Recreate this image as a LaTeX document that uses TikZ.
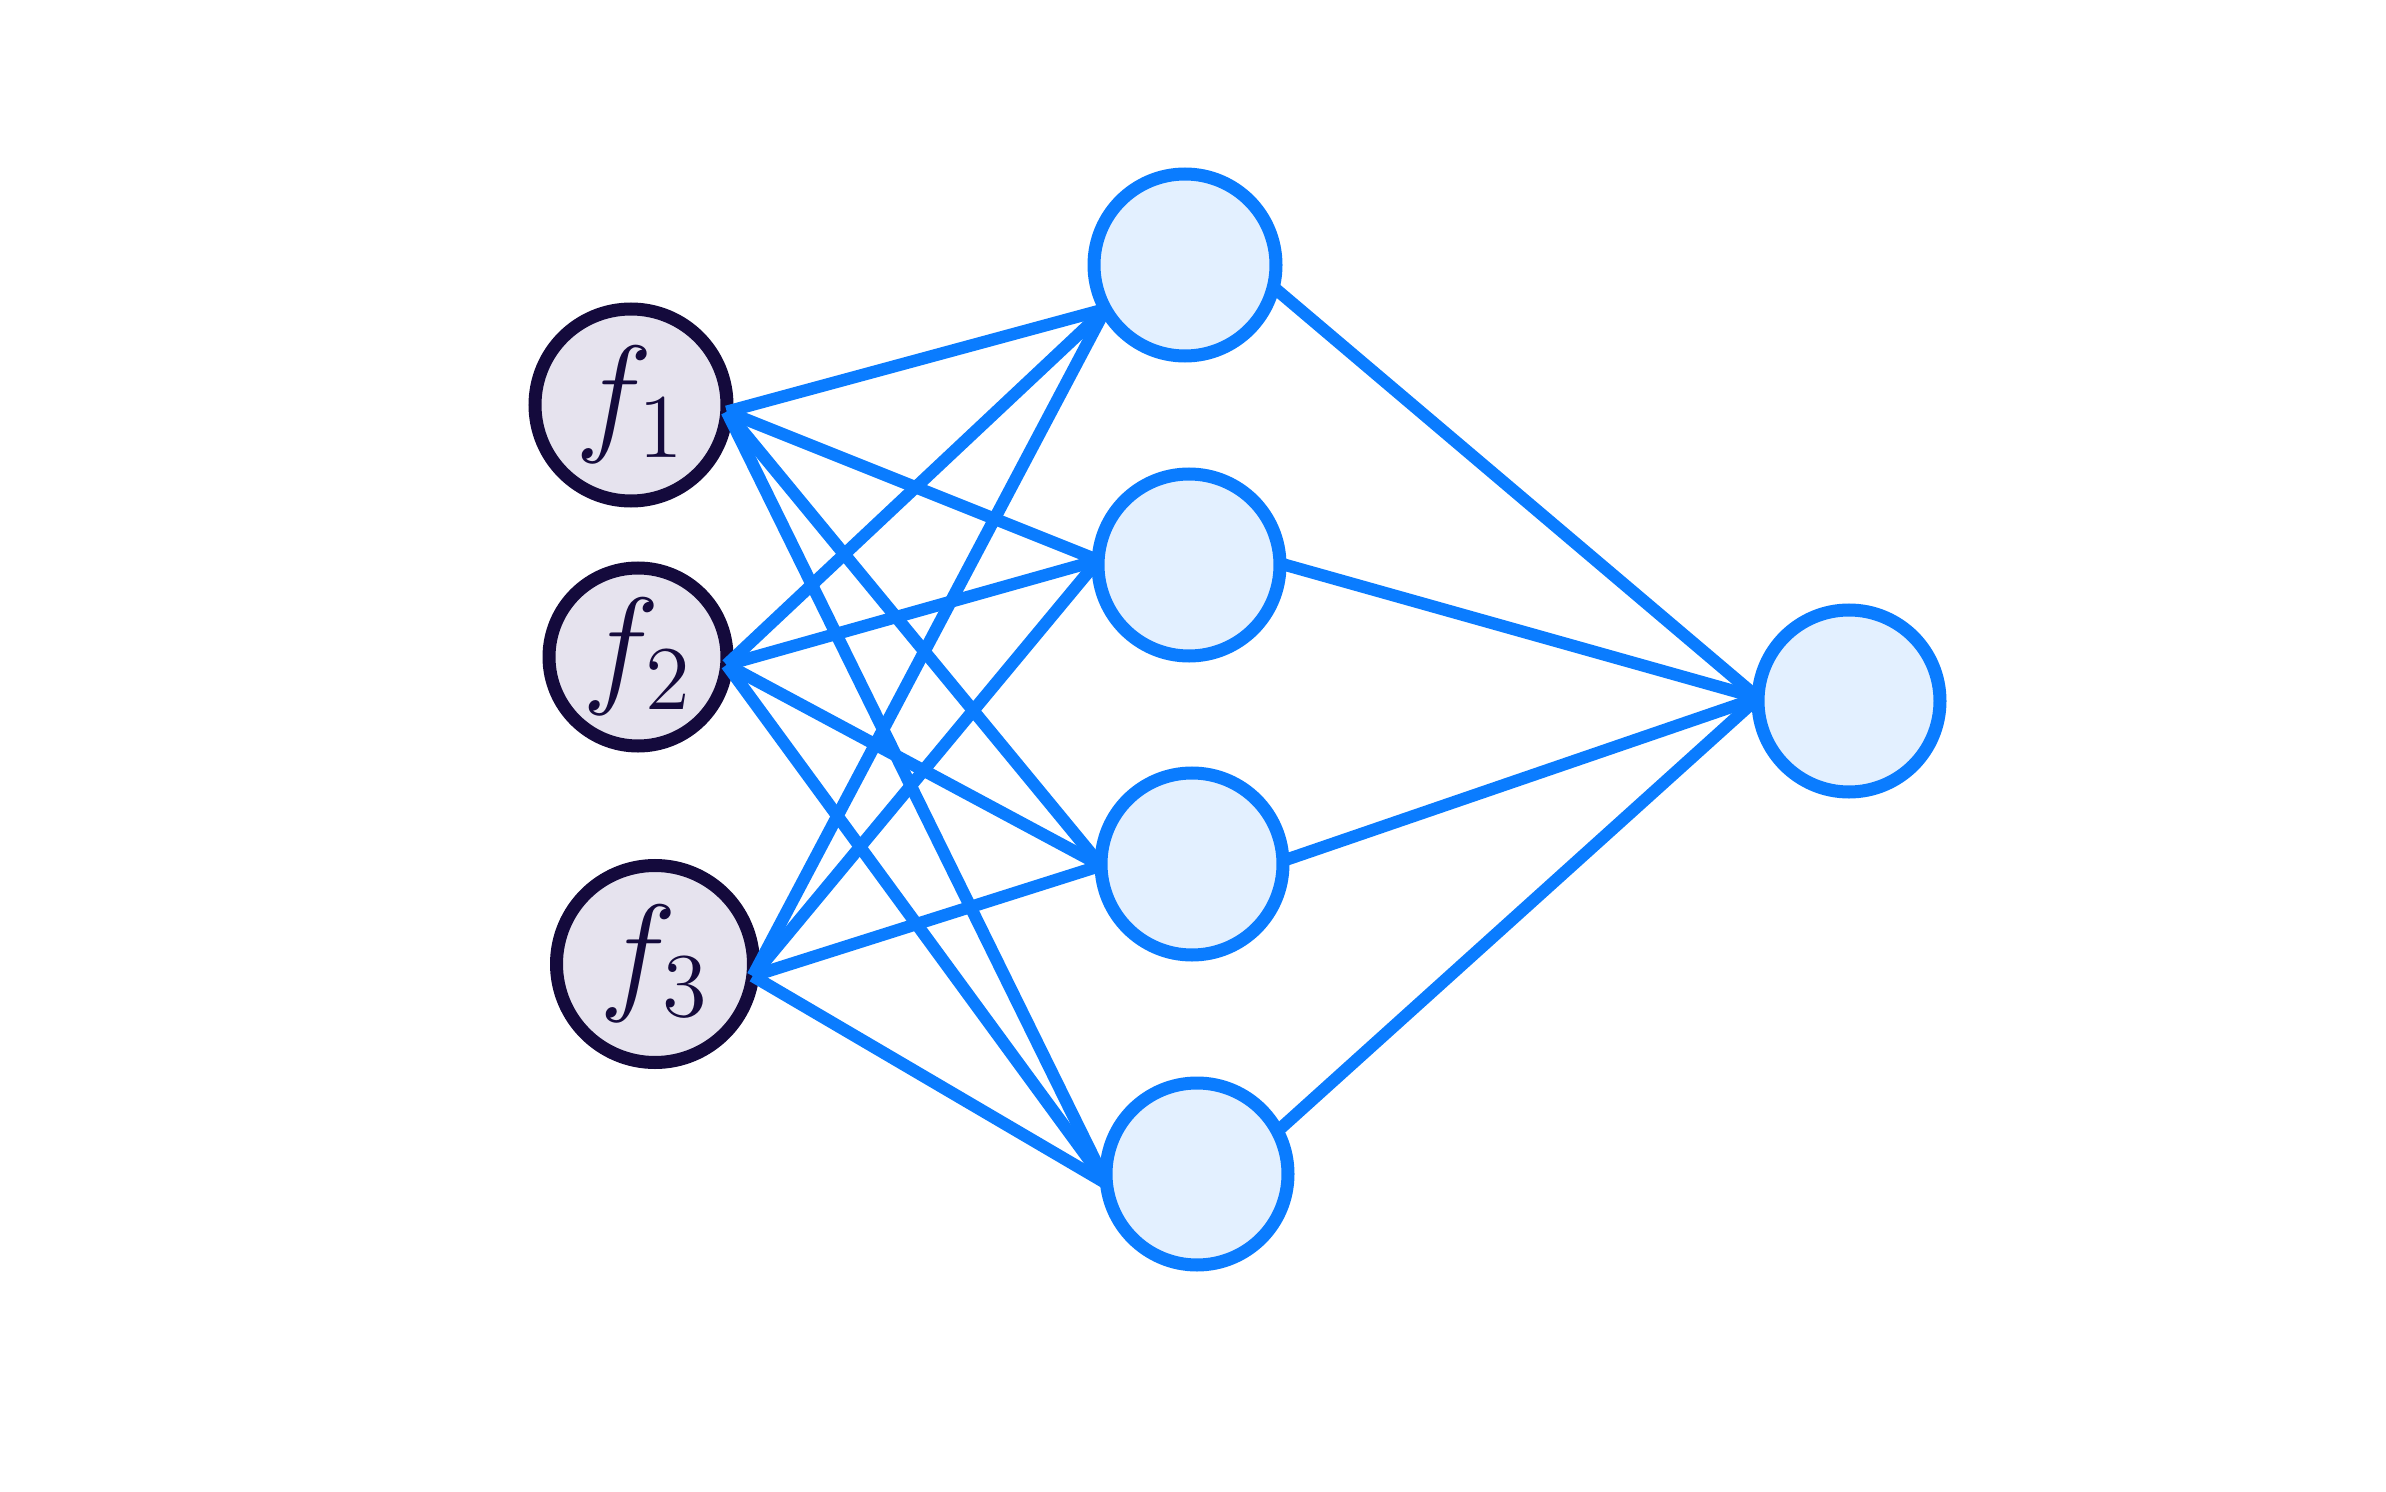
\documentclass[tikz,border=0pt]{standalone}
\usepackage{xcolor}
\usepackage{graphicx}
\usepackage{tikz}
\usepackage{amsmath,amssymb}
\usetikzlibrary{positioning, calc}
\definecolor{nnink}{HTML}{140A3C}
\definecolor{nninfill}{HTML}{E6E3EE}
\definecolor{nnblue}{HTML}{0A7CFF}
\definecolor{nnbluefill}{HTML}{E3F0FF}
\newcommand{\featlabel}[1]{\scalebox{1.8}{$f_{#1}$}}
\tikzset{
  inneuron/.style={circle, draw=nnink, fill=nninfill, line width=3.7pt, outer sep=0pt, inner sep=0pt, text=nnink, font=\fontsize{20.74}{20.74}\selectfont},
  neuron/.style={circle, draw=nnblue, fill=nnbluefill, line width=3.7pt, minimum size=1.82cm, outer sep=0pt, inner sep=0pt},
  wire/.style={draw=nnblue, line width=3.5pt}
}

\begin{document}
\begin{tikzpicture}
  \useasboundingbox (0,0) rectangle (23.86,14.91);
  \node[inneuron, minimum size=1.92cm] (in1) at (6.31,10.86) {\featlabel{1}};
  \node[inneuron, minimum size=1.78cm] (in2) at (6.38,8.34) {\featlabel{2}};
  \node[inneuron, minimum size=1.97cm] (in3) at (6.55,5.27) {\featlabel{3}};
  \node[neuron] (hid1) at (11.85,12.26) {};
  \node[neuron] (hid2) at (11.89,9.26) {};
  \node[neuron] (hid3) at (11.92,6.27) {};
  \node[neuron] (hid4) at (11.97,3.17) {};
  \node[neuron] (out) at (18.49,7.90) {};

  \coordinate (in1p) at (in1.-4);
  \coordinate (in2p) at (in2.-5);
  \coordinate (in3p) at (in3.-7);
  \coordinate (hid1p) at (hid1.209);
  \coordinate (hid2p) at (hid2.177);
  \coordinate (hid3p) at (hid3.181);
  \coordinate (hid4p) at (hid4.186);
  \coordinate (outp) at (out.178);

  \foreach \i in {1,2,3}
    \foreach \h in {1,...,4}
      \draw[wire] (in\i p) -- (hid\h p);

  \draw[wire] (hid1.-14) -- (outp);
  \draw[wire] (hid2.1) -- (outp);
  \draw[wire] (hid3.2) -- (outp);
  \draw[wire] (hid4.28) -- (outp);
\end{tikzpicture}
\end{document}
